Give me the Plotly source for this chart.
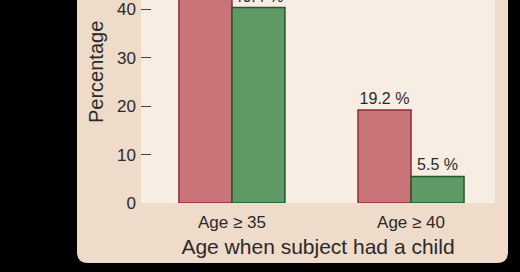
import plotly.graph_objects as go

categories = ["Age ≥ 35", "Age ≥ 40"]
group_a = [57.6, 19.2]   # red series
group_b = [40.4, 5.5]    # green series
y_ticks = [0, 10, 20, 30, 40]

W, H = 520, 272
L, R, T, B = 141, 25, 0, 69
PW, PH = W - L - R, H - T - B

def px_x(x):
    return (x - L) / PW

def px_y(y):
    return (H - B - y) / PH

FONT = "Liberation Sans, Arial"
TXT = "#2a2a2a"

fig = go.Figure()
fig.add_trace(go.Bar(
    x=categories, y=group_a, name="A",
    marker=dict(color="#c97479", line=dict(color="#8c2b3b", width=1.5)),
    text=[f"{v} %" for v in group_a], textposition="outside",
    textfont=dict(family=FONT, size=16, color=TXT),
    cliponaxis=False,
))
fig.add_trace(go.Bar(
    x=categories, y=group_b, name="B",
    marker=dict(color="#5f9966", line=dict(color="#23592d", width=1.5)),
    text=[f"{v} %" for v in group_b], textposition="outside",
    textfont=dict(family=FONT, size=16, color=TXT),
    cliponaxis=False,
))
# invisible trace to drive tick marks on secondary axis
fig.add_trace(go.Scatter(x=categories, y=[0, 0], yaxis="y2", mode="markers",
                         marker=dict(opacity=0), showlegend=False, hoverinfo="skip"))

# panel with rounded bottom corners (in paper coords)
x0, x1, yb, ytop, r = 77, 508, 263, -20, 11
path = (f"M {px_x(x0)} {px_y(ytop)} L {px_x(x0)} {px_y(yb - r)} "
        f"Q {px_x(x0)} {px_y(yb)} {px_x(x0 + r)} {px_y(yb)} "
        f"L {px_x(x1 - r)} {px_y(yb)} Q {px_x(x1)} {px_y(yb)} {px_x(x1)} {px_y(yb - r)} "
        f"L {px_x(x1)} {px_y(ytop)} Z")

fig.update_layout(
    width=W, height=H, autosize=False,
    margin=dict(l=L, r=R, t=T, b=B, pad=0),
    paper_bgcolor="#000000",
    plot_bgcolor="rgba(0,0,0,0)",
    barmode="group", bargap=0.408, bargroupgap=0,
    showlegend=False,
    font=dict(family=FONT, color=TXT),
    shapes=[
        dict(type="path", path=path, xref="paper", yref="paper",
             fillcolor="#efdbc9", line=dict(width=0), layer="below"),
        dict(type="rect", xref="paper", yref="paper", x0=0, x1=1, y0=0, y1=1.2,
             fillcolor="#f7ede3", line=dict(width=0), layer="below"),
    ],
    annotations=[dict(text="Percentage", textangle=-90, xref="paper", yref="paper",
                      x=px_x(96), y=px_y(72), xanchor="center", yanchor="middle",
                      showarrow=False, font=dict(size=20, color=TXT))],
    xaxis=dict(
        type="category", range=[-0.508, 1.469],
        showgrid=False, zeroline=False, showline=False, ticks="",
        tickfont=dict(size=17, color=TXT),
        ticklabelstandoff=7,
        title=dict(text="Age when subject had a child",
                   font=dict(size=21, color=TXT), standoff=8),
    ),
    yaxis=dict(
        range=[0, 41.96], tickvals=y_ticks,
        showgrid=False, zeroline=False, showline=False, ticks="",
        tickfont=dict(size=17, color=TXT),
        ticklabelstandoff=4,
    ),
    yaxis2=dict(
        overlaying="y", range=[0, 41.96], tickvals=y_ticks[1:],
        showticklabels=False, showgrid=False, zeroline=False, showline=False,
        ticks="inside", ticklen=10, tickwidth=1.2, tickcolor="#444444",
        side="left",
    ),
)

fig.write_html("out.html")
